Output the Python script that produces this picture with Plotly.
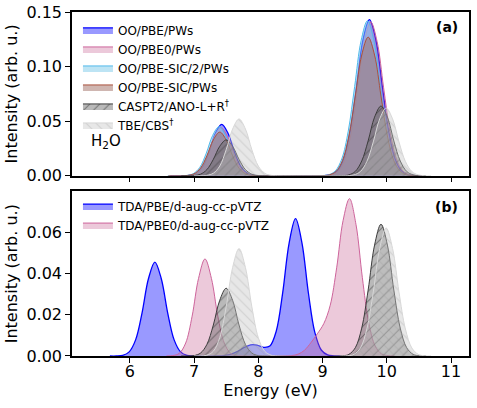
import plotly.graph_objects as go

# ---- panel (a): OO / plane waves vs reference ----
e_oo_pbe = [6.63, 6.73, 6.83, 6.93, 7.03, 7.13, 7.23, 7.33, 7.43, 7.53, 7.63, 7.73, 7.83, 7.93, 8.03, 8.13,
            9.03, 9.13, 9.23, 9.33, 9.43, 9.53, 9.63, 9.73, 9.83, 9.93, 10.03, 10.13, 10.23, 10.33, 10.43, 10.53]
i_oo_pbe = [0, 0, 0, 0.0004, 0.0021, 0.0081, 0.0215, 0.0387, 0.047, 0.0387, 0.0215, 0.0081, 0.0021, 0.0004, 0, 0,
            0.0002, 0.0010, 0.0045, 0.0156, 0.0410, 0.0822, 0.1246, 0.143, 0.1246, 0.0822, 0.0410, 0.0156, 0.0045, 0.0010, 0.0002, 0]

e_oo_pbe0 = [6.62, 6.72, 6.82, 6.92, 7.02, 7.12, 7.22, 7.32, 7.42, 7.52, 7.62, 7.72, 7.82, 7.92, 8.02, 8.12,
             9.05, 9.15, 9.25, 9.35, 9.45, 9.55, 9.65, 9.75, 9.85, 9.95, 10.05, 10.15, 10.25, 10.35, 10.45, 10.55]
i_oo_pbe0 = [0, 0, 0, 0.0003, 0.0019, 0.0076, 0.0202, 0.0362, 0.044, 0.0362, 0.0202, 0.0076, 0.0019, 0.0003, 0, 0,
             0.0002, 0.0010, 0.0044, 0.0154, 0.0405, 0.0811, 0.1228, 0.141, 0.1228, 0.0811, 0.0405, 0.0154, 0.0044, 0.0010, 0.0002, 0]

e_oo_sic2 = [6.59, 6.69, 6.79, 6.89, 6.99, 7.09, 7.19, 7.29, 7.39, 7.49, 7.59, 7.69, 7.79, 7.89, 7.99, 8.09,
             9.00, 9.10, 9.20, 9.30, 9.40, 9.50, 9.60, 9.70, 9.80, 9.90, 10.00, 10.10, 10.20, 10.30, 10.40, 10.50]
i_oo_sic2 = [0, 0, 0, 0.0003, 0.0020, 0.0077, 0.0206, 0.0370, 0.045, 0.0370, 0.0206, 0.0077, 0.0020, 0.0003, 0, 0,
             0.0002, 0.0010, 0.0045, 0.0155, 0.0408, 0.0817, 0.1237, 0.142, 0.1237, 0.0817, 0.0408, 0.0155, 0.0045, 0.0010, 0.0002, 0]

e_oo_sic = [6.60, 6.70, 6.80, 6.90, 7.00, 7.10, 7.20, 7.30, 7.40, 7.50, 7.60, 7.70, 7.80, 7.90, 8.00, 8.10,
            9.01, 9.11, 9.21, 9.31, 9.41, 9.51, 9.61, 9.71, 9.81, 9.91, 10.01, 10.11, 10.21, 10.31, 10.41, 10.51]
i_oo_sic = [0, 0, 0, 0.0003, 0.0018, 0.0069, 0.0183, 0.0329, 0.040, 0.0329, 0.0183, 0.0069, 0.0018, 0.0003, 0, 0,
            0.0001, 0.0009, 0.0040, 0.0138, 0.0364, 0.0730, 0.1106, 0.127, 0.1106, 0.0730, 0.0364, 0.0138, 0.0040, 0.0009, 0.0001, 0]

# ---- references (both panels) ----
e_caspt2 = [6.80, 6.90, 7.00, 7.10, 7.20, 7.30, 7.40, 7.50, 7.60, 7.70, 7.80, 7.90, 8.00, 8.10,
            9.31, 9.41, 9.51, 9.61, 9.71, 9.81, 9.91, 10.01, 10.11, 10.21, 10.31, 10.41, 10.51, 10.61]
i_caspt2 = [0, 0, 0.0002, 0.0014, 0.0056, 0.0150, 0.0270, 0.0328, 0.0270, 0.0150, 0.0056, 0.0014, 0.0002, 0,
            0.0001, 0.0008, 0.0040, 0.0135, 0.0319, 0.0537, 0.0638, 0.0537, 0.0319, 0.0135, 0.0040, 0.0008, 0.0001, 0]

e_tbe = [7.00, 7.10, 7.20, 7.30, 7.40, 7.50, 7.60, 7.70, 7.80, 7.90, 8.00, 8.10, 8.20, 8.30,
         9.39, 9.49, 9.59, 9.69, 9.79, 9.89, 9.99, 10.09, 10.19, 10.29, 10.39, 10.49, 10.59, 10.69]
i_tbe = [0, 0, 0.0004, 0.0023, 0.0089, 0.0238, 0.0428, 0.052, 0.0428, 0.0238, 0.0089, 0.0023, 0.0004, 0,
         0.0001, 0.0008, 0.0039, 0.0131, 0.0310, 0.0521, 0.062, 0.0521, 0.0310, 0.0131, 0.0039, 0.0008, 0.0001, 0]

# ---- panel (b): TDA / Gaussian basis ----
e_tda_pbe = [5.69, 5.79, 5.89, 5.99, 6.09, 6.19, 6.29, 6.39, 6.49, 6.59, 6.69, 6.79, 6.89, 6.99, 7.38,
             7.48, 7.58, 7.68, 7.78, 7.88, 7.98, 8.08, 8.18, 8.28, 8.38, 8.48, 8.58, 8.68, 8.78, 8.88, 8.98, 9.08, 9.18, 9.28]
i_tda_pbe = [0, 0, 0.0003, 0.0020, 0.0078, 0.0208, 0.0374, 0.0455, 0.0374, 0.0208, 0.0078, 0.0020, 0.0003, 0, 0,
             0.0003, 0.0009, 0.0023, 0.0041, 0.0054, 0.0053, 0.0042, 0.0048, 0.0121, 0.0307, 0.0547, 0.0665, 0.0547, 0.0305, 0.0114, 0.0029, 0.0005, 0.0001, 0]

e_tda_pbe0 = [6.57, 6.67, 6.77, 6.87, 6.97, 7.07, 7.17, 7.27, 7.37, 7.47, 7.57, 7.67, 7.77, 8.42,
              8.52, 8.62, 8.72, 8.82, 8.92, 9.02, 9.12, 9.22, 9.32, 9.42, 9.52, 9.62, 9.72, 9.82, 9.92, 10.02, 10.12]
i_tda_pbe0 = [0, 0.0002, 0.0013, 0.0063, 0.0193, 0.0376, 0.047, 0.0376, 0.0193, 0.0063, 0.0013, 0.0002, 0, 0,
              0.0002, 0.0009, 0.0028, 0.0065, 0.0108, 0.0157, 0.0246, 0.0427, 0.0656, 0.0762, 0.0638, 0.0379, 0.0160, 0.0048, 0.0010, 0.0002, 0]

FONT = "DejaVu Sans"

fig = go.Figure()


def spectrum(e, i, name, line, fill, xa, ya, legend, width=1.0, pattern=None, show=True):
    kw = dict(fillpattern=pattern) if pattern else {}
    fig.add_trace(go.Scatter(
        x=e, y=i, name=name, mode="lines", xaxis=xa, yaxis=ya, legend=legend,
        line=dict(color=line, width=width, shape="spline", smoothing=1.0),
        fill="tozeroy", fillcolor=fill, showlegend=show, **kw))


hatch_cas = dict(shape="/", bgcolor="rgba(100,100,100,0.45)", fgcolor="rgba(60,60,60,0.55)",
                 size=7, solidity=0.15, fillmode="replace")
hatch_tbe = dict(shape="\\", bgcolor="rgba(195,195,195,0.4)", fgcolor="rgba(150,150,150,0.3)",
                 size=7, solidity=0.15, fillmode="replace")

# (a)
spectrum(e_oo_pbe, i_oo_pbe, "OO/PBE/PWs", "blue", "rgba(0,0,255,0.4)", "x", "y", "legend", 1.3)
spectrum(e_oo_pbe0, i_oo_pbe0, "OO/PBE0/PWs", "rgb(205,100,155)", "rgba(200,100,150,0.35)", "x", "y", "legend")
spectrum(e_oo_sic2, i_oo_sic2, "OO/PBE-SIC/2/PWs", "rgb(80,185,235)", "rgba(135,206,235,0.55)", "x", "y", "legend")
spectrum(e_oo_sic, i_oo_sic, "OO/PBE-SIC/PWs", "rgb(170,80,60)", "rgba(160,110,100,0.5)", "x", "y", "legend")
spectrum(e_caspt2, i_caspt2, "CASPT2/ANO-L+R<sup>†</sup>", "rgb(60,60,60)", "rgba(100,100,100,0.45)",
         "x", "y", "legend", pattern=hatch_cas)
spectrum(e_tbe, i_tbe, "TBE/CBS<sup>†</sup>", "rgb(215,215,215)", "rgba(195,195,195,0.4)",
         "x", "y", "legend", pattern=hatch_tbe)

# (b)
spectrum(e_tda_pbe, i_tda_pbe, "TDA/PBE/d-aug-cc-pVTZ", "blue", "rgba(0,0,255,0.4)", "x2", "y2", "legend2", 1.3)
spectrum(e_tda_pbe0, i_tda_pbe0, "TDA/PBE0/d-aug-cc-pVTZ", "rgb(205,100,155)", "rgba(200,100,150,0.35)",
         "x2", "y2", "legend2")
spectrum(e_caspt2, i_caspt2, "CASPT2", "rgb(60,60,60)", "rgba(100,100,100,0.45)", "x2", "y2", "legend2",
         pattern=hatch_cas, show=False)
spectrum(e_tbe, i_tbe, "TBE", "rgb(215,215,215)", "rgba(195,195,195,0.4)", "x2", "y2", "legend2",
         pattern=hatch_tbe, show=False)

ax = dict(showline=True, mirror=True, linecolor="black", linewidth=1.5, showgrid=False, zeroline=False,
          ticks="outside", ticklen=5, tickwidth=1.2, tickcolor="black", automargin=False,
          ticklabeloverflow="allow", tickfont=dict(family=FONT, size=16, color="black"))

fig.update_layout(
    width=477, height=408,
    margin=dict(l=72, r=8, t=12, b=52),
    paper_bgcolor="white", plot_bgcolor="white",
    font=dict(family=FONT, color="black"),
    xaxis=dict(ax, domain=[0, 1], anchor="y", range=[5.1, 11.28], dtick=1, tick0=6, showticklabels=False),
    yaxis=dict(ax, domain=[0.524, 1], anchor="x", range=[0, 0.15001], tickvals=[0, 0.05, 0.10, 0.15],
               tickformat=".2f",
               title=dict(text="Intensity (arb. u.)", font=dict(size=16), standoff=5)),
    xaxis2=dict(ax, domain=[0, 1], anchor="y2", range=[5.1, 11.28], dtick=1, tick0=6, ticklabelstandoff=-5,
                title=dict(text="Energy (eV)", font=dict(size=16), standoff=3)),
    yaxis2=dict(ax, domain=[0, 0.4785], anchor="x2", range=[0, 0.0797], dtick=0.02, tickformat=".2f",
                title=dict(text="Intensity (arb. u.)", font=dict(size=16), standoff=5)),
    legend=dict(x=0.015, y=0.99, xanchor="left", yanchor="top", bgcolor="rgba(0,0,0,0)",
                font=dict(family=FONT, size=12), tracegroupgap=0),
    legend2=dict(x=0.015, y=0.478, xanchor="left", yanchor="top", bgcolor="rgba(0,0,0,0)",
                 font=dict(family=FONT, size=12), tracegroupgap=0),
    annotations=[
        dict(text="<b>(a)</b>", x=0.977, y=0.909, xref="x domain", yref="y domain",
             xanchor="right", yanchor="middle", showarrow=False, font=dict(size=14)),
        dict(text="<b>(b)</b>", x=0.977, y=0.907, xref="x2 domain", yref="y2 domain",
             xanchor="right", yanchor="middle", showarrow=False, font=dict(size=14)),
        dict(text="H<sub>2</sub>O", x=0.043, y=0.21, xref="x domain", yref="y domain",
             xanchor="left", yanchor="middle", showarrow=False, font=dict(size=15)),
    ],
)

# drop the default 8px page margin so the figure fills the window exactly
fig.write_html("out.html", config={"displayModeBar": False},
               post_script="document.body.style.margin='0px';")
